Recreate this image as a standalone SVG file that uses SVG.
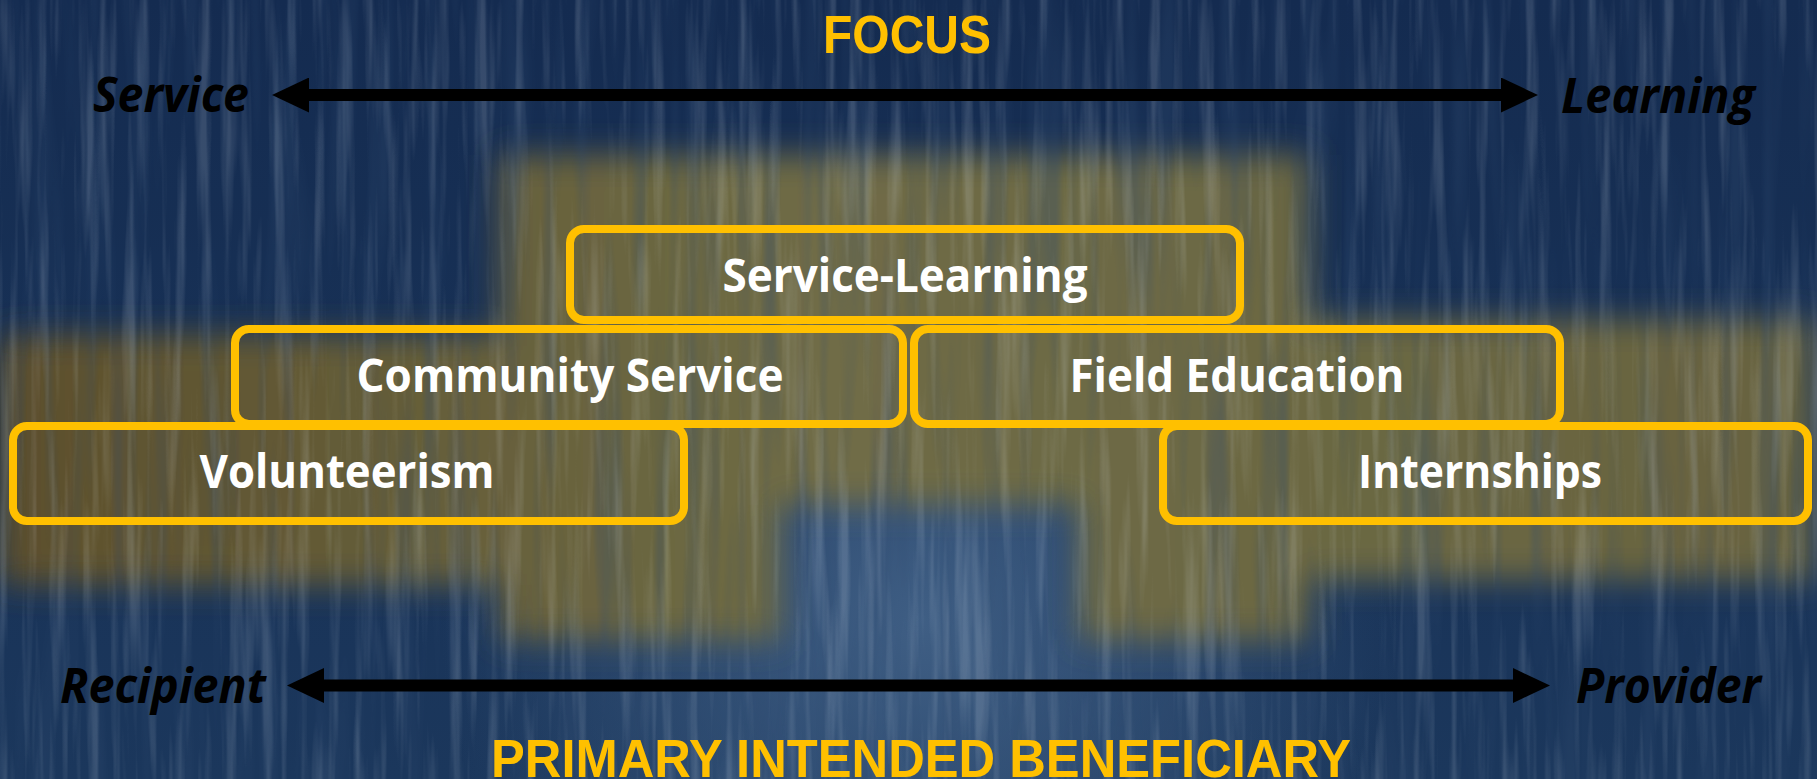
<svg xmlns="http://www.w3.org/2000/svg" width="1817" height="779" viewBox="0 0 1817 779">
  <defs>
    <linearGradient id="bgBlue" x1="0" y1="0" x2="0" y2="1">
      <stop offset="0" stop-color="#142b50"/>
      <stop offset="1" stop-color="#1b375c"/>
    </linearGradient>
    <radialGradient id="lowGlow" cx="920" cy="620" r="480" gradientUnits="userSpaceOnUse">
      <stop offset="0" stop-color="#46668c" stop-opacity="0.85"/>
      <stop offset="1" stop-color="#46668c" stop-opacity="0"/>
    </radialGradient>
    <linearGradient id="olive" x1="0" y1="0" x2="1" y2="0">
      <stop offset="0" stop-color="#5c4f2c"/>
      <stop offset="0.45" stop-color="#6f6c46"/>
      <stop offset="1" stop-color="#686340"/>
    </linearGradient>
    <filter id="blur" x="-20%" y="-30%" width="140%" height="160%">
      <feGaussianBlur stdDeviation="16"/>
    </filter>
    <filter id="streaks" x="0" y="0" width="100%" height="100%">
      <feTurbulence type="fractalNoise" baseFrequency="0.08 0.004" numOctaves="3" seed="7"/>
      <feColorMatrix type="matrix" values="0 0 0 0 0.78  0 0 0 0 0.85  0 0 0 0 0.92  3.2 0 0 0 -1.55"/>
    </filter>
    <filter id="darkStreaks" x="0" y="0" width="100%" height="100%">
      <feTurbulence type="fractalNoise" baseFrequency="0.05 0.003" numOctaves="2" seed="21"/>
      <feColorMatrix type="matrix" values="0 0 0 0 0.03  0 0 0 0 0.07  0 0 0 0 0.16  0 3 0 0 -1.4"/>
    </filter>
    <marker id="head" viewBox="0 0 37 35" markerWidth="37" markerHeight="35" refX="9" refY="17.5" orient="auto-start-reverse" markerUnits="userSpaceOnUse">
      <path d="M0,0 L37,17.5 L0,35 z" fill="#000"/>
    </marker>
    <style>
      .box rect { fill: none; stroke: #FFC000; stroke-width: 8; }
      .box text { font-family: "Open Sans", "Noto Sans", "Liberation Sans", sans-serif; font-weight: 700; font-size: 47px; fill: #ffffff; text-anchor: middle; }
      .title { font-family: "Liberation Sans", Arial, sans-serif; font-weight: 700; font-size: 54px; fill: #FFC000; text-anchor: middle; }
      .end { font-family: "Open Sans", "Noto Sans", "Liberation Sans", sans-serif; font-weight: 700; font-style: italic; font-size: 49px; fill: #000000; }
      .axis { stroke: #000; stroke-width: 12; fill: none; marker-start: url(#head); marker-end: url(#head); }
    </style>
  </defs>

  <!-- background -->
  <g id="background">
    <rect x="0" y="0" width="1817" height="779" fill="url(#bgBlue)"/>
    <rect x="0" y="0" width="1817" height="779" fill="url(#lowGlow)"/>
    <path filter="url(#blur)" fill="url(#olive)"
      d="M500,155 L1310,155 L1310,320 L1817,320 L1817,580 L1310,580 L1310,640 L1080,640 L1080,505 L780,505 L780,640 L500,640 L500,585 L0,585 L0,335 L500,335 Z"/>
    <rect x="0" y="0" width="1817" height="779" filter="url(#darkStreaks)" opacity="0.3"/>
    <rect x="0" y="0" width="1817" height="779" filter="url(#streaks)" opacity="0.16"/>
  </g>

  <!-- titles -->
  <text class="title" x="907" y="53" textLength="168" lengthAdjust="spacingAndGlyphs">FOCUS</text>
  <text class="title" x="921" y="777" textLength="860" lengthAdjust="spacingAndGlyphs">PRIMARY INTENDED BENEFICIARY</text>

  <!-- axis end labels -->
  <text class="end" x="93" y="112" textLength="156" lengthAdjust="spacingAndGlyphs">Service</text>
  <text class="end" x="1561" y="113" textLength="194" lengthAdjust="spacingAndGlyphs">Learning</text>
  <text class="end" x="60" y="703" textLength="206" lengthAdjust="spacingAndGlyphs">Recipient</text>
  <text class="end" x="1576" y="703" textLength="185" lengthAdjust="spacingAndGlyphs">Provider</text>

  <!-- connectors -->
  <g id="connectors">
    <line class="axis" x1="300" y1="95" x2="1510" y2="95"/>
    <line class="axis" x1="315" y1="685.5" x2="1522" y2="685.5"/>
  </g>

  <!-- nodes -->
  <g id="node-service-learning" class="box">
    <rect x="570" y="229" width="670" height="91" rx="14"/>
    <text x="905" y="292" textLength="365" lengthAdjust="spacingAndGlyphs">Service-Learning</text>
  </g>
  <g id="node-community-service" class="box">
    <rect x="235" y="329" width="668" height="95" rx="14"/>
    <text x="570" y="392" textLength="427" lengthAdjust="spacingAndGlyphs">Community Service</text>
  </g>
  <g id="node-field-education" class="box">
    <rect x="914" y="329" width="646" height="95" rx="14"/>
    <text x="1237" y="392" textLength="335" lengthAdjust="spacingAndGlyphs">Field Education</text>
  </g>
  <g id="node-volunteerism" class="box">
    <rect x="13" y="426" width="671" height="95" rx="14"/>
    <text x="347" y="488" textLength="295" lengthAdjust="spacingAndGlyphs">Volunteerism</text>
  </g>
  <g id="node-internships" class="box">
    <rect x="1163" y="426" width="645" height="95" rx="14"/>
    <text x="1480" y="488" textLength="244" lengthAdjust="spacingAndGlyphs">Internships</text>
  </g>
</svg>
